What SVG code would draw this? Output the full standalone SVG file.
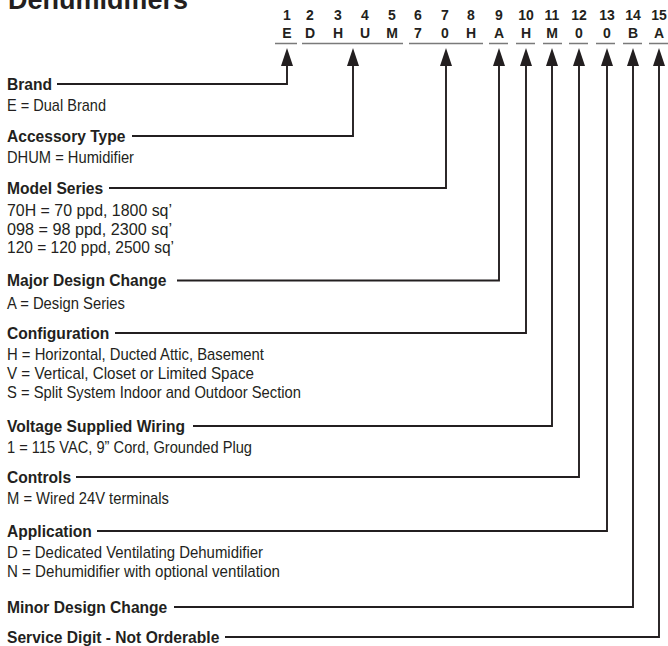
<svg xmlns="http://www.w3.org/2000/svg" width="668" height="646" viewBox="0 0 668 646">
<style>
text{font-family:"Liberation Sans",Arial,sans-serif;fill:#231f20}
.t{font-size:27px;font-weight:bold}
.d{font-size:14px;font-weight:bold;text-anchor:middle}
.lb{font-size:15.6px;font-weight:bold}
.r{font-size:16.4px}
.ul{stroke:#7a7a7a;stroke-width:1.3;fill:none}
.cn{stroke:#231f20;stroke-width:1.9;fill:none;stroke-linejoin:miter;stroke-linecap:butt}
</style>
<defs>
<marker id="ah" markerUnits="userSpaceOnUse" viewBox="0 0 18 12" markerWidth="18" markerHeight="12" refX="6" refY="6" orient="auto">
<path d="M0,0 L18,6 L0,12 z" fill="#231f20"/>
</marker>
</defs>
<rect width="668" height="646" fill="#ffffff"/>
<text class="t" x="8" y="9">Dehumidifiers</text>

<g id="code">
<g class="digits">
<text class="d" x="287" y="20">1</text><text class="d" x="310" y="20">2</text><text class="d" x="338" y="20">3</text><text class="d" x="365" y="20">4</text><text class="d" x="392" y="20">5</text><text class="d" x="418" y="20">6</text><text class="d" x="445" y="20">7</text><text class="d" x="471" y="20">8</text><text class="d" x="499" y="20">9</text><text class="d" x="526" y="20">10</text><text class="d" x="552" y="20">11</text><text class="d" x="579" y="20">12</text><text class="d" x="607" y="20">13</text><text class="d" x="633" y="20">14</text><text class="d" x="659" y="20">15</text>
</g>
<g class="letters">
<text class="d" x="287" y="38">E</text><text class="d" x="310" y="38">D</text><text class="d" x="338" y="38">H</text><text class="d" x="365" y="38">U</text><text class="d" x="392" y="38">M</text><text class="d" x="418" y="38">7</text><text class="d" x="445" y="38">0</text><text class="d" x="471" y="38">H</text><text class="d" x="499" y="38">A</text><text class="d" x="526" y="38">H</text><text class="d" x="552" y="38">M</text><text class="d" x="579" y="38">0</text><text class="d" x="607" y="38">0</text><text class="d" x="633" y="38">B</text><text class="d" x="659" y="38">A</text>
</g>
<path class="ul" d="M275,43.5H297M302,43.5H403M409,43.5H483M489,43.5H508M516,43.5H535M543,43.5H562M569,43.5H588M596,43.5H615M623,43.5H642M649,43.5H668"/>
</g>

<g id="connectors">
<path class="cn" marker-end="url(#ah)" d="M57,84H287V60"/>
<path class="cn" marker-end="url(#ah)" d="M132,136H353V60"/>
<path class="cn" marker-end="url(#ah)" d="M109,188H446V60"/>
<path class="cn" marker-end="url(#ah)" d="M177,280.5H499V60"/>
<path class="cn" marker-end="url(#ah)" d="M115,333H526V60"/>
<path class="cn" marker-end="url(#ah)" d="M193,426H552V60"/>
<path class="cn" marker-end="url(#ah)" d="M76,477H579V60"/>
<path class="cn" marker-end="url(#ah)" d="M97,531H607V60"/>
<path class="cn" marker-end="url(#ah)" d="M174,607H633V60"/>
<path class="cn" marker-end="url(#ah)" d="M225,637H659V60"/>
</g>

<g id="brand">
<text class="lb" x="7" y="89.5">Brand</text>
<text class="r" x="7" y="111" textLength="99" lengthAdjust="spacingAndGlyphs">E = Dual Brand</text>
</g>
<g id="accessory-type">
<text class="lb" x="7" y="141.5">Accessory Type</text>
<text class="r" x="7" y="162.5" textLength="127" lengthAdjust="spacingAndGlyphs">DHUM = Humidifier</text>
</g>
<g id="model-series">
<text class="lb" x="7" y="193.5">Model Series</text>
<text class="r" x="7" y="216" textLength="165" lengthAdjust="spacingAndGlyphs">70H = 70 ppd, 1800 sq’</text>
<text class="r" x="7" y="234.5" textLength="165" lengthAdjust="spacingAndGlyphs">098 = 98 ppd, 2300 sq’</text>
<text class="r" x="7" y="253" textLength="167" lengthAdjust="spacingAndGlyphs">120 = 120 ppd, 2500 sq’</text>
</g>
<g id="major-design-change">
<text class="lb" x="7" y="286">Major Design Change</text>
<text class="r" x="7" y="309" textLength="118" lengthAdjust="spacingAndGlyphs">A = Design Series</text>
</g>
<g id="configuration">
<text class="lb" x="7" y="338.5">Configuration</text>
<text class="r" x="7" y="360" textLength="257" lengthAdjust="spacingAndGlyphs">H = Horizontal, Ducted Attic, Basement</text>
<text class="r" x="7" y="379" textLength="247" lengthAdjust="spacingAndGlyphs">V = Vertical, Closet or Limited Space</text>
<text class="r" x="7" y="398" textLength="294" lengthAdjust="spacingAndGlyphs">S = Split System Indoor and Outdoor Section</text>
</g>
<g id="voltage-supplied-wiring">
<text class="lb" x="7" y="431.5">Voltage Supplied Wiring</text>
<text class="r" x="7" y="453" textLength="245" lengthAdjust="spacingAndGlyphs">1 = 115 VAC, 9” Cord, Grounded Plug</text>
</g>
<g id="controls">
<text class="lb" x="7" y="482.5">Controls</text>
<text class="r" x="7" y="504" textLength="162" lengthAdjust="spacingAndGlyphs">M = Wired 24V terminals</text>
</g>
<g id="application">
<text class="lb" x="7" y="536.5">Application</text>
<text class="r" x="7" y="558" textLength="256" lengthAdjust="spacingAndGlyphs">D = Dedicated Ventilating Dehumidifier</text>
<text class="r" x="7" y="576.5" textLength="273" lengthAdjust="spacingAndGlyphs">N = Dehumidifier with optional ventilation</text>
</g>
<g id="minor-design-change">
<text class="lb" x="7" y="612.5">Minor Design Change</text>
</g>
<g id="service-digit">
<text class="lb" x="7" y="642.5">Service Digit - Not Orderable</text>
</g>
</svg>
